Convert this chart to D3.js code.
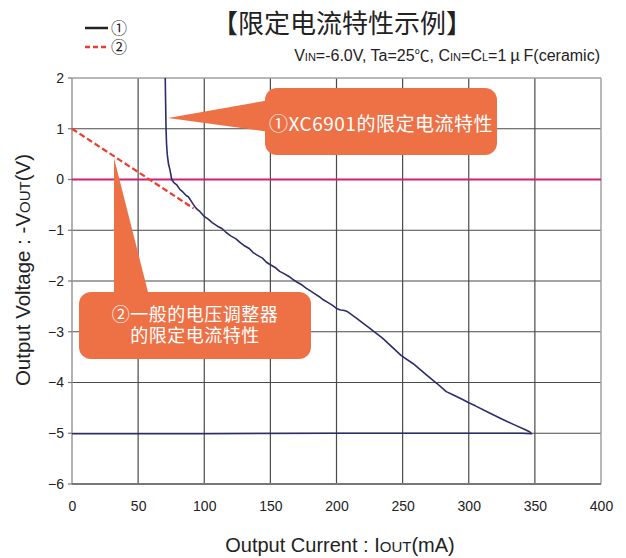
<!DOCTYPE html>
<html>
<head>
<meta charset="utf-8">
<script src="https://cdn.jsdelivr.net/npm/d3@7"></script>
<style>
  html, body { margin: 0; padding: 0; background: #fff; }
  svg { display: block; }
  text { font-family: "Liberation Sans", Arial, sans-serif; }
  .cjk { font-family: "Noto Sans CJK SC", sans-serif; }
  .mixed { font-family: "Liberation Sans", "Noto Sans CJK SC", sans-serif; }
</style>
</head>
<body>
<svg id="chart" width="626" height="558"></svg>
<script>
// Axis ticks
const xTicks = [0, 50, 100, 150, 200, 250, 300, 350, 400];
const yTicks = [2, 1, 0, -1, -2, -3, -4, -5, -6];

// ① XC6901 current limit curve: output current (mA) vs -Vout (V)
const xcCurrent = [70.5, 70.8, 71.1, 71.5, 72.0, 73.0, 74.0, 75.4, 77.0, 79.0, 81.7, 84.0, 86.5, 88.0,
  90.0, 91.7, 94.3, 97.0, 100, 103, 106, 110, 113, 116, 120, 124, 127, 130, 134, 137, 140, 144,
  147, 150, 154, 157, 160, 164, 167, 170, 174, 177, 180, 184, 187, 190, 194, 197, 200, 203, 206,
  208, 215, 225, 235, 249, 258, 268, 276, 283, 288, 295, 300, 305, 315, 325, 335, 342, 346, 347.6,
  340, 300, 200, 100, 0];
const xcVoltage = [2.0, 1.5, 1.0, 0.7, 0.5, 0.3, 0.2, 0.0, -0.06, -0.1, -0.2, -0.25, -0.32, -0.34,
  -0.42, -0.49, -0.58, -0.64, -0.73, -0.78, -0.85, -0.92, -0.96, -1.03, -1.11, -1.17, -1.24, -1.30,
  -1.36, -1.44, -1.49, -1.55, -1.63, -1.68, -1.74, -1.81, -1.85, -1.91, -1.97, -2.02, -2.08, -2.14,
  -2.19, -2.26, -2.31, -2.37, -2.43, -2.48, -2.54, -2.57, -2.58, -2.60, -2.73, -2.93, -3.13, -3.47,
  -3.63, -3.85, -4.02, -4.18, -4.24, -4.33, -4.40, -4.46, -4.59, -4.72, -4.84, -4.92, -4.97, -5.01,
  -5.0, -5.0, -5.0, -5.01, -5.01];

// ② general regulator current limit
const regCurrent = [0, 92];
const regVoltage = [1.0, -0.57];

const svg = d3.select("#chart");
const plot = { left: 72, right: 601, top: 78, bottom: 484 };

const x = d3.scaleLinear().domain([0, 400]).range([plot.left, plot.right]);
const y = d3.scaleLinear().domain([-6, 2]).range([plot.bottom, plot.top]);

// Grid lines
const grid = svg.append("g");
grid.selectAll("line.vx").data(xTicks.slice(1, -1)).join("line")
  .attr("x1", d => x(d)).attr("x2", d => x(d))
  .attr("y1", plot.top).attr("y2", plot.bottom)
  .attr("stroke", "#4a4a4a").attr("stroke-width", 1.2);
grid.selectAll("line.hy").data(yTicks.slice(1, -1)).join("line")
  .attr("x1", plot.left).attr("x2", plot.right)
  .attr("y1", d => y(d)).attr("y2", d => y(d))
  .attr("stroke", "#4a4a4a").attr("stroke-width", 1.2);

// Frame
svg.append("line").attr("x1", plot.left).attr("x2", plot.right).attr("y1", plot.top).attr("y2", plot.top)
  .attr("stroke", "#a0a0a0").attr("stroke-width", 1.5);
svg.append("line").attr("x1", plot.right).attr("x2", plot.right).attr("y1", plot.top).attr("y2", plot.bottom)
  .attr("stroke", "#a0a0a0").attr("stroke-width", 1.5);
svg.append("line").attr("x1", plot.left).attr("x2", plot.left).attr("y1", plot.top).attr("y2", plot.bottom)
  .attr("stroke", "#999").attr("stroke-width", 1.5);
svg.append("line").attr("x1", plot.left).attr("x2", plot.right).attr("y1", plot.bottom).attr("y2", plot.bottom)
  .attr("stroke", "#777").attr("stroke-width", 2);

// Axes (labels only; ticks drawn as grid)
const xAxis = d3.axisBottom(x).tickValues(xTicks).tickSize(0).tickPadding(0)
  .tickFormat(d => String(d));
svg.append("g").attr("transform", `translate(0,${plot.bottom + 17})`).call(xAxis)
  .call(g => g.select(".domain").remove())
  .selectAll("text").attr("font-family", "Liberation Sans, Arial, sans-serif")
  .attr("font-size", 14).attr("fill", "#222").attr("dy", "0.71em");

const yAxis = d3.axisLeft(y).tickValues(yTicks).tickSize(0).tickPadding(0)
  .tickFormat(d => d < 0 ? "\u2212" + Math.abs(d) : String(d));
svg.append("g").attr("transform", `translate(${plot.left - 8},0)`).call(yAxis)
  .call(g => g.select(".domain").remove())
  .selectAll("text").attr("font-family", "Liberation Sans, Arial, sans-serif")
  .attr("font-size", 14).attr("fill", "#222");

// Small tick stubs on left axis
svg.append("g").selectAll("line").data(yTicks).join("line")
  .attr("x1", plot.left - 4).attr("x2", plot.left)
  .attr("y1", d => y(d)).attr("y2", d => y(d))
  .attr("stroke", "#777").attr("stroke-width", 1.2);

// Zero reference line
svg.append("line").attr("x1", plot.left).attr("x2", plot.right)
  .attr("y1", y(0)).attr("y2", y(0))
  .attr("stroke", "#d21f7c").attr("stroke-width", 2);

// Series
const line = d3.line().x(d => x(d[0])).y(d => y(d[1]));
const regPts = d3.zip(regCurrent, regVoltage);
const xcPts = d3.zip(xcCurrent, xcVoltage);

svg.append("path").datum(regPts).attr("d", line)
  .attr("fill", "none").attr("stroke", "#f03a2e").attr("stroke-width", 2.2)
  .attr("stroke-dasharray", "6,3");

svg.append("path").datum(xcPts).attr("d", line)
  .attr("fill", "none").attr("stroke", "#2c2c6c").attr("stroke-width", 1.6)
  .attr("stroke-linejoin", "round");

// Callouts
const orange = "#ee7146";
function callout(box, tri, lines, fontSize, lineGap, cls) {
  const g = svg.append("g");
  g.append("path").attr("d", d3.line()(tri) + "Z").attr("fill", orange);
  g.append("rect").attr("x", box[0]).attr("y", box[1])
    .attr("width", box[2] - box[0]).attr("height", box[3] - box[1])
    .attr("rx", 12).attr("ry", 12).attr("fill", orange);
  const cx = (box[0] + box[2]) / 2, cy = (box[1] + box[3]) / 2;
  const t = g.append("text").attr("class", cls)
    .attr("text-anchor", "middle").attr("dominant-baseline", "central")
    .attr("font-size", fontSize).attr("fill", "#fff").attr("letter-spacing", 0.5);
  lines.forEach((s, i) => {
    t.append("tspan").attr("x", cx)
      .attr("y", cy + (i - (lines.length - 1) / 2) * lineGap).text(s);
  });
}
callout([265, 88, 497, 155], [[168, 118], [270, 100], [270, 132]],
  ["①XC6901的限定电流特性"], 19, 0, "cjk");
callout([79, 292, 311, 359], [[114, 158], [114, 300], [150, 300]],
  ["②一般的电压调整器", "的限定电流特性"], 18, 21, "mixed");

// Title
svg.append("text").attr("class", "cjk").attr("x", 342).attr("y", 21)
  .attr("text-anchor", "middle").attr("dominant-baseline", "central")
  .attr("font-size", 26).attr("fill", "#222").text("【限定电流特性示例】");

// Legend
const legend = svg.append("g");
legend.append("line").attr("x1", 85).attr("x2", 108).attr("y1", 28).attr("y2", 28)
  .attr("stroke", "#222").attr("stroke-width", 2.5);
legend.append("line").attr("x1", 85).attr("x2", 108).attr("y1", 47).attr("y2", 47)
  .attr("stroke", "#f03a2e").attr("stroke-width", 2.5).attr("stroke-dasharray", "5,3");
const legText = legend.append("text").attr("class", "mixed")
  .attr("dominant-baseline", "central").attr("font-size", 16).attr("fill", "#222");
legText.append("tspan").attr("x", 111).attr("y", 28).text("①");
legText.append("tspan").attr("x", 111).attr("y", 47).text("②");

// Test conditions
const cond = svg.append("text").attr("x", 600).attr("y", 61).attr("text-anchor", "end")
  .attr("font-size", 16).attr("fill", "#222");
cond.append("tspan").text("V");
cond.append("tspan").attr("font-size", 11).text("IN");
cond.append("tspan").text("=-6.0V, Ta=25");
cond.append("tspan").attr("class", "cjk").attr("font-size", 15).text("℃");
cond.append("tspan").text(", C");
cond.append("tspan").attr("font-size", 11).text("IN");
cond.append("tspan").text("=C");
cond.append("tspan").attr("font-size", 11).text("L");
cond.append("tspan").text("=1");
cond.append("tspan").attr("class", "cjk").text(" μ ");
cond.append("tspan").text("F(ceramic)");

// Axis titles
const xt = svg.append("text").attr("x", 340).attr("y", 552).attr("text-anchor", "middle")
  .attr("font-size", 20).attr("fill", "#222");
xt.append("tspan").text("Output Current : I");
xt.append("tspan").attr("font-size", 15).text("OUT");
xt.append("tspan").text("(mA)");

const yt = svg.append("text").attr("transform", "translate(30,270) rotate(-90)")
  .attr("text-anchor", "middle").attr("font-size", 20.5).attr("fill", "#222");
yt.append("tspan").text("Output Voltage : -V");
yt.append("tspan").attr("font-size", 15).text("OUT");
yt.append("tspan").text("(V)");
</script>
</body>
</html>
